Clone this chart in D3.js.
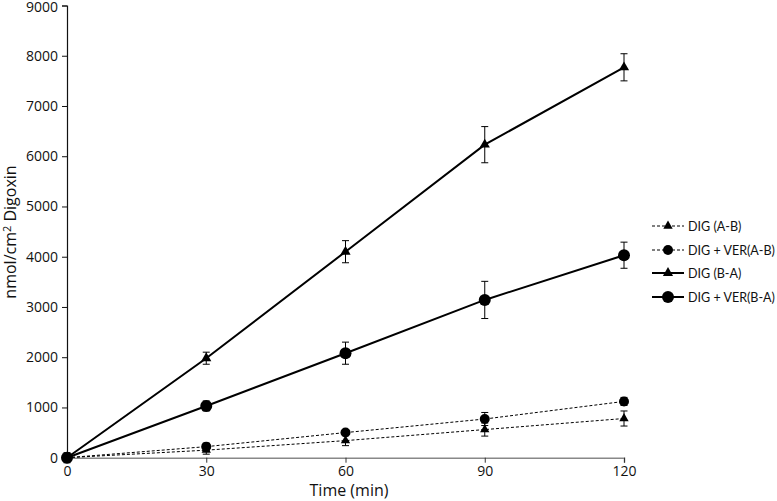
<!DOCTYPE html>
<html><head><meta charset="utf-8">
<script src="https://cdn.jsdelivr.net/npm/d3@7"></script>
<style>body{margin:0;background:#fff}svg{display:block}text{font-family:"Open Sans",sans-serif;fill:#111}.lg{font-family:Lato,"Open Sans",sans-serif}</style>
</head><body><svg id="c" width="777" height="501"></svg>
<script>
const times = [0, 30, 60, 90, 120];
const xTicks = [0, 30, 60, 90, 120];
const yTicks = [0,1000,2000,3000,4000,5000,6000,7000,8000,9000];
const digAB = [0, 150, 340, 560, 780];
const digABErr = [100, 80, 100, 130, 150];
const digVerAB = [0, 220, 500, 770, 1120];
const digVerABErr = [60, 70, 60, 130, 80];
const digBA = [0, 1980, 4100, 6230, 7770];
const digBAErr = [60, 120, 220, 360, 270];
const digVerBA = [0, 1030, 2080, 3140, 4030];
const digVerBAErr = [40, 100, 220, 370, 260];
const seriesNames = ["DIG (A-B)", "DIG + VER(A-B)", "DIG (B-A)", "DIG + VER(B-A)"];

const series = [
  {name: seriesNames[0], v: digAB, e: digABErr, sym: "tri", dashed: true},
  {name: seriesNames[1], v: digVerAB, e: digVerABErr, sym: "circ", dashed: true},
  {name: seriesNames[2], v: digBA, e: digBAErr, sym: "tri", dashed: false},
  {name: seriesNames[3], v: digVerBA, e: digVerBAErr, sym: "circ", dashed: false}
];

const svg = d3.select("#c");
const x = d3.scaleLinear().domain([0,120]).range([67,624]);
const y = d3.scaleLinear().domain([0,9000]).range([457.7,5.5]);

// axes
const xa = svg.append("g").attr("transform","translate(0,457.7)")
  .call(d3.axisBottom(x).tickValues(xTicks).tickSize(5).tickPadding(3));
xa.select(".domain").attr("stroke","#888").attr("stroke-width",1.5);
xa.selectAll(".tick line").attr("stroke","#333");
xa.selectAll("text").style("font-size","14px");

const ya = svg.append("g").attr("transform","translate(67,0)")
  .call(d3.axisLeft(y).tickValues(yTicks).tickSize(5).tickPadding(4).tickFormat(d3.format("d")));
ya.select(".domain").attr("stroke","#111").attr("stroke-width",1.2);
ya.selectAll(".tick line").attr("stroke","#111");
ya.selectAll("text").style("font-size","14px");
// keep the top label inside the picture
ya.selectAll(".tick").filter(d => d === 9000).select("text").attr("y", 2);

svg.append("text").attr("x",349).attr("y",495.5).attr("text-anchor","middle")
  .style("font-size","16px").text("Time (min)");
const yt = svg.append("text").attr("transform","translate(16,232) rotate(-90)")
  .attr("text-anchor","middle").style("font-size","16px");
yt.append("tspan").text("nmol/cm");
yt.append("tspan").attr("dy",-5).style("font-size","11px").text("2");
yt.append("tspan").attr("dy",5).text(" Digoxin");

const triPath = d3.symbol().type(d3.symbolTriangle).size(45)();
const triPathS = d3.symbol().type(d3.symbolTriangle).size(38)();

function marker(g, sym, cx, cy, big) {
  if (sym === "circ") {
    g.append("circle").attr("cx",cx).attr("cy",cy).attr("r", big ? 6 : 5).attr("fill","#000");
  } else {
    g.append("path").attr("d", big ? triPath : triPathS).attr("transform",`translate(${cx},${cy})`).attr("fill","#000");
  }
}

series.forEach(s => {
  const g = svg.append("g");
  const line = d3.line().x((d,i)=>x(times[i])).y(d=>y(d));
  g.append("path").datum(s.v).attr("d",line).attr("fill","none").attr("stroke","#000")
    .attr("stroke-width", s.dashed ? 1 : 2)
    .attr("stroke-dasharray", s.dashed ? "3,2" : null);
  s.v.forEach((v,i) => {
    const cx = x(times[i]);
    const y1 = y(v + s.e[i]), y2 = y(v - s.e[i]);
    g.append("line").attr("x1",cx).attr("x2",cx).attr("y1",y1).attr("y2",y2).attr("stroke","#000").attr("stroke-width",1);
    [y1,y2].forEach(yy => g.append("line").attr("x1",cx-3.5).attr("x2",cx+3.5).attr("y1",yy).attr("y2",yy).attr("stroke","#000").attr("stroke-width",1));
    marker(g, s.sym, cx, y(v), !s.dashed);
  });
});

// legend
const ly = [226, 250, 273, 297];
const legTexts = [];
series.forEach((s,i) => {
  const g = svg.append("g");
  g.append("line").attr("x1",652).attr("x2",684).attr("y1",ly[i]).attr("y2",ly[i])
    .attr("stroke","#000").attr("stroke-width", s.dashed ? 1 : 2)
    .attr("stroke-dasharray", s.dashed ? "3,2" : null);
  marker(g, s.sym, 668, ly[i], !s.dashed);
  legTexts.push(g.append("text").attr("class","lg").attr("x",688).attr("y",ly[i]+5).style("font-size","15px").text(s.name));
});
// fit the widest legend label to the width it has in the reference (~87px)
const wMax = d3.max(legTexts, t => t.node().getComputedTextLength());
const fs = Math.min(15, 15 * 87 / wMax);
legTexts.forEach(t => t.style("font-size", fs + "px"));
</script></body></html>
